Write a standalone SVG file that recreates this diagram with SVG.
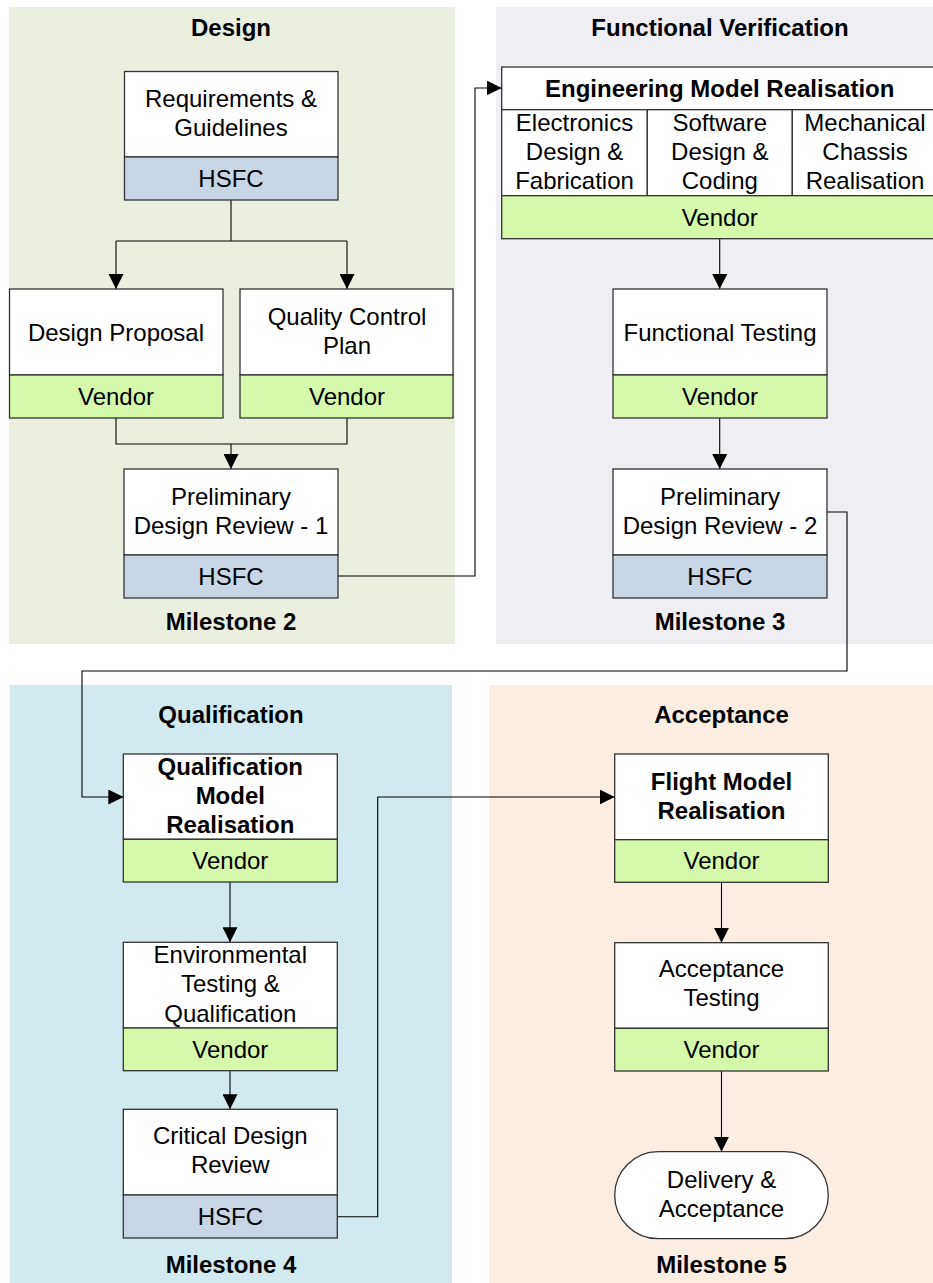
<svg xmlns="http://www.w3.org/2000/svg" width="933" height="1283" viewBox="0 0 933 1283">
<defs>
<marker id="arr" viewBox="0 0 15 15" refX="15" refY="7.5" markerWidth="15" markerHeight="15" markerUnits="userSpaceOnUse" orient="auto">
<path d="M0,0 L15,7.5 L0,15 Z" fill="#000"/>
</marker>
</defs>
<style>
text{font-family:"Liberation Sans",Arial,sans-serif;font-size:24px;fill:#000;text-anchor:middle}
.b{font-weight:bold}
.top{fill:#fff;stroke:#333;stroke-width:1.3}
.hsfc{fill:#C8D5E5;stroke:#333;stroke-width:1.3}
.vend{fill:#D6F8AA;stroke:#333;stroke-width:1.3}
.c{fill:none;stroke:#000;stroke-width:1.1}
.ca{fill:none;stroke:#000;stroke-width:1.1;marker-end:url(#arr)}
</style>
<g id="panels">
<rect x="9" y="7" width="446" height="637" fill="#EBEFDF"/>
<rect x="496" y="7" width="437" height="637" fill="#EFEEF3"/>
<rect x="10" y="685" width="442" height="598" fill="#D2EAEF"/>
<rect x="489" y="685" width="444" height="598" fill="#FCEDE3"/>
<text class="b" x="231" y="36">Design</text>
<text class="b" x="720" y="36">Functional Verification</text>
<text class="b" x="231" y="723">Qualification</text>
<text class="b" x="721.5" y="723">Acceptance</text>
<text class="b" x="231" y="630">Milestone 2</text>
<text class="b" x="720" y="630">Milestone 3</text>
<text class="b" x="231" y="1273">Milestone 4</text>
<text class="b" x="721.5" y="1273">Milestone 5</text>
</g>
<g id="connectors">
<path class="c" d="M231,200 V241 M116,241 H347"/>
<path class="ca" d="M116,241 V289"/>
<path class="ca" d="M347,241 V289"/>
<path class="c" d="M116,418 V444 H347 V418"/>
<path class="ca" d="M231,444 V469"/>
<path class="ca" d="M338,576 H475 V88 H501.7"/>
<path class="ca" d="M719.7,238.7 V289"/>
<path class="ca" d="M719.7,418 V469"/>
<path class="ca" d="M827,512 H847 V671 H82 V797 H123.3"/>
<path class="ca" d="M230,882 V942.3"/>
<path class="ca" d="M230,1070.7 V1109.3"/>
<path class="ca" d="M337.3,1216.7 H377.7 V797 H614.7"/>
<path class="ca" d="M721.5,882.3 V942.7"/>
<path class="ca" d="M721.5,1071 V1151.7"/>
</g>
<g id="req">
<rect class="top" x="124.5" y="71.5" width="213.5" height="85.5"/>
<rect class="hsfc" x="124.5" y="157" width="213.5" height="43"/>
<text x="231" y="107">Requirements &amp;</text>
<text x="231" y="136">Guidelines</text>
<text x="231" y="186.5">HSFC</text>
</g>
<g id="design-proposal">
<rect class="top" x="9.5" y="289" width="213.5" height="86"/>
<rect class="vend" x="9.5" y="375" width="213.5" height="43"/>
<text x="116" y="340.5">Design Proposal</text>
<text x="116" y="404.5">Vendor</text>
</g>
<g id="qcp">
<rect class="top" x="240" y="289" width="213" height="86"/>
<rect class="vend" x="240" y="375" width="213" height="43"/>
<text x="347" y="325">Quality Control</text>
<text x="347" y="354">Plan</text>
<text x="347" y="404.5">Vendor</text>
</g>
<g id="pdr1">
<rect class="top" x="124" y="469" width="214" height="86"/>
<rect class="hsfc" x="124" y="555" width="214" height="43"/>
<text x="231" y="505">Preliminary</text>
<text x="231" y="534">Design Review - 1</text>
<text x="231" y="585">HSFC</text>
</g>
<g id="emr">
<rect class="top" x="501.7" y="67" width="436" height="42.7"/>
<rect class="top" x="501.7" y="109.7" width="145.6" height="86"/>
<rect class="top" x="647.3" y="109.7" width="145" height="86"/>
<rect class="top" x="792.3" y="109.7" width="145.4" height="86"/>
<rect class="vend" x="501.7" y="195.7" width="436" height="43"/>
<text class="b" x="719.7" y="97">Engineering Model Realisation</text>
<text x="574.5" y="131">Electronics</text>
<text x="574.5" y="160">Design &amp;</text>
<text x="574.5" y="189">Fabrication</text>
<text x="719.8" y="131">Software</text>
<text x="719.8" y="160">Design &amp;</text>
<text x="719.8" y="189">Coding</text>
<text x="865" y="131">Mechanical</text>
<text x="865" y="160">Chassis</text>
<text x="865" y="189">Realisation</text>
<text x="719.7" y="225.5">Vendor</text>
</g>
<g id="ft">
<rect class="top" x="613" y="289" width="214" height="86"/>
<rect class="vend" x="613" y="375" width="214" height="43"/>
<text x="720" y="340.5">Functional Testing</text>
<text x="720" y="404.5">Vendor</text>
</g>
<g id="pdr2">
<rect class="top" x="613" y="469" width="214" height="86"/>
<rect class="hsfc" x="613" y="555" width="214" height="43"/>
<text x="720" y="505">Preliminary</text>
<text x="720" y="534">Design Review - 2</text>
<text x="720" y="585">HSFC</text>
</g>
<g id="qmr">
<rect class="top" x="123.3" y="754" width="214" height="85.3"/>
<rect class="vend" x="123.3" y="839.3" width="214" height="42.7"/>
<text class="b" x="230.3" y="775">Qualification</text>
<text class="b" x="230.3" y="804">Model</text>
<text class="b" x="230.3" y="832.7">Realisation</text>
<text x="230.3" y="869">Vendor</text>
</g>
<g id="env">
<rect class="top" x="123.3" y="942.3" width="214" height="85.7"/>
<rect class="vend" x="123.3" y="1028" width="214" height="42.7"/>
<text x="230.3" y="962.7">Environmental</text>
<text x="230.3" y="991.7">Testing &amp;</text>
<text x="230.3" y="1021.7">Qualification</text>
<text x="230.3" y="1058">Vendor</text>
</g>
<g id="cdr">
<rect class="top" x="123.3" y="1109.3" width="214" height="85.7"/>
<rect class="hsfc" x="123.3" y="1195" width="214" height="43"/>
<text x="230.3" y="1144.3">Critical Design</text>
<text x="230.3" y="1173">Review</text>
<text x="230.3" y="1225">HSFC</text>
</g>
<g id="fmr">
<rect class="top" x="614.7" y="754" width="213.6" height="85.7"/>
<rect class="vend" x="614.7" y="839.7" width="213.6" height="42.6"/>
<text class="b" x="721.5" y="790">Flight Model</text>
<text class="b" x="721.5" y="818.7">Realisation</text>
<text x="721.5" y="869">Vendor</text>
</g>
<g id="at">
<rect class="top" x="614.7" y="942.7" width="213.6" height="85.6"/>
<rect class="vend" x="614.7" y="1028.3" width="213.6" height="42.7"/>
<text x="721.5" y="977">Acceptance</text>
<text x="721.5" y="1006">Testing</text>
<text x="721.5" y="1058">Vendor</text>
</g>
<g id="delivery">
<rect class="top" x="614.7" y="1151.7" width="213.6" height="87" rx="43.5" ry="43.5"/>
<text x="721.5" y="1187.7">Delivery &amp;</text>
<text x="721.5" y="1216.7">Acceptance</text>
</g>
</svg>
